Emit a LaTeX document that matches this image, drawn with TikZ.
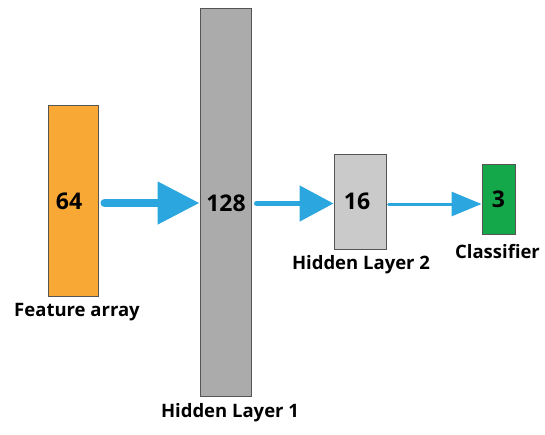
\documentclass[tikz,border=0pt]{standalone}
\usepackage{fontspec}
\setmainfont{Open Sans}
\usetikzlibrary{arrows.meta,calc}
\definecolor{orangebox}{HTML}{F8A935}
\definecolor{darkgraybox}{HTML}{ABABAB}
\definecolor{lightgraybox}{HTML}{CACACA}
\definecolor{greenbox}{HTML}{14A84B}
\definecolor{arrowblue}{HTML}{2BA6DF}
\definecolor{edgegray}{HTML}{555555}
\begin{document}
\begin{tikzpicture}[x=1pt,y=-1pt,
  layerbox/.style={draw=edgegray,line width=1pt,minimum width=#1,inner sep=0pt},
  numtext/.style={font=\bfseries\fontsize{23}{27}\selectfont},
  lbl/.style={font=\bfseries\fontsize{18.5}{22}\selectfont,inner sep=0pt},
  conn/.style={arrowblue,line cap=round}
]
\useasboundingbox (0,0) rectangle (545,434);
\node[layerbox=50pt,fill=orangebox,minimum height=191pt] (fa) at (73,200.5) {};
\node[layerbox=51pt,fill=darkgraybox,minimum height=388pt] (h1) at (225.5,202) {};
\node[layerbox=52pt,fill=lightgraybox,minimum height=95pt] (h2) at (360,201.5) {};
\node[layerbox=33pt,fill=greenbox,minimum height=70pt] (cl) at (498.5,199) {};
\node[numtext] (t1) at (69,201) {64};
\node[numtext] (t2) at (226,203) {128};
\node[numtext] (t3) at (357,201) {16};
\node[numtext] (t4) at (498.5,199) {3};
\node[lbl] (l1) at (77,312) {Feature array};
\node[lbl] (l2) at (230,413) {Hidden Layer 1};
\node[lbl] (l3) at (361,265) {Hidden Layer 2};
\node[lbl] (l4) at (497.5,252) {Classifier};
\draw[conn,line width=8pt,-{Triangle[length=42pt,width=41pt]}]
  ($(fa.east|-0,203)+(6,0)$) -- (h1.west|-0,203);
\draw[conn,line width=5pt,-{Triangle[length=34pt,width=35pt]}]
  ($(h1.east|-0,203.5)+(5,0)$) -- (h2.west|-0,203.5);
\draw[conn,line width=3pt,-{Triangle[length=30pt,width=24pt]}]
  ($(h2.east|-0,204)+(2,0)$) -- (cl.west|-0,204);
\end{tikzpicture}
\end{document}
